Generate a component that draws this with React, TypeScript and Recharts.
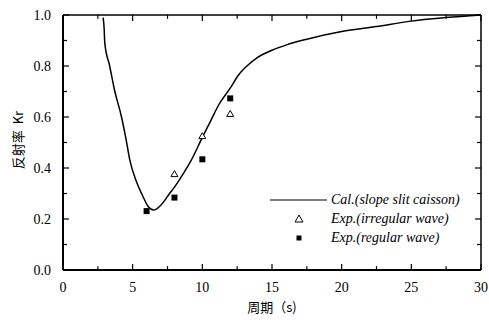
import { ComposedChart, Line, XAxis, YAxis, ReferenceLine } from 'recharts';

const calPeriod = [2.88, 2.95, 3.0, 3.35, 3.7, 4.2, 4.5, 4.8, 5.25, 5.75, 6.1, 6.5, 7.0, 7.65, 8.0, 8.6, 9.2, 10.0, 10.6, 11.2, 12.0, 12.6, 13.2, 14.0, 15.0, 16.0, 17.5, 20.0, 22.5, 25.0, 27.5, 30.0];
const calKr = [0.99, 0.95, 0.89, 0.8, 0.705, 0.6, 0.52, 0.43, 0.35, 0.287, 0.25, 0.235, 0.253, 0.3, 0.325, 0.375, 0.43, 0.52, 0.585, 0.65, 0.713, 0.765, 0.8, 0.835, 0.862, 0.882, 0.905, 0.935, 0.955, 0.976, 0.99, 1.0];

const irrPeriod = [8, 10, 12];
const irrKr = [0.376, 0.525, 0.612];

const regPeriod = [6, 8, 10, 12];
const regKr = [0.231, 0.284, 0.434, 0.673];

const xMajor = [0, 5, 10, 15, 20, 25, 30];
const xMinor = [2.5, 7.5, 12.5, 17.5, 22.5, 27.5];
const yMajor = [0, 0.2, 0.4, 0.6, 0.8, 1.0];
const yMinor = [0.1, 0.3, 0.5, 0.7, 0.9];

const calData = calPeriod.map((t, i) => ({ t, kr: calKr[i] }));
const irrData = irrPeriod.map((t, i) => ({ t, kr: irrKr[i] }));
const regData = regPeriod.map((t, i) => ({ t, kr: regKr[i] }));

const serif = 'Liberation Serif';
const cjk = 'Noto Sans CJK SC';

// inward tick lengths in data units (about 6px / 4px)
const xLenMajor = 0.024;
const xLenMinor = 0.015;
const yLenMajor = 0.43;
const yLenMinor = 0.29;

function Triangle(props: any) {
  const { cx, cy } = props;
  return <path d={`M${cx},${cy - 3.5} L${cx + 3.5},${cy + 2.5} L${cx - 3.5},${cy + 2.5} Z`} fill="#fff" stroke="#000" strokeWidth={1} />;
}

function Square(props: any) {
  const { cx, cy } = props;
  return <rect x={cx - 3} y={cy - 3} width={6} height={6} fill="#000" />;
}

function LegendBox() {
  const row = { display: 'flex', alignItems: 'center', height: 19 } as const;
  const label = { fontFamily: serif, fontStyle: 'italic', fontSize: 14, color: '#000', whiteSpace: 'nowrap' } as const;
  return (
    <div style={{ position: 'absolute', left: 270, top: 190 }}>
      <div style={row}>
        <svg width={61} height={10}><line x1={0} x2={57} y1={5} y2={5} stroke="#555" strokeWidth={1.5} /></svg>
        <span style={label}>Cal.(slope slit caisson)</span>
      </div>
      <div style={row}>
        <svg width={61} height={10}><path d="M29,1 L33,8 L25,8 Z" fill="#fff" stroke="#000" /></svg>
        <span style={label}>Exp.(irregular wave)</span>
      </div>
      <div style={row}>
        <svg width={61} height={10}><rect x={26.5} y={2.5} width={5} height={5} fill="#000" /></svg>
        <span style={label}>Exp.(regular wave)</span>
      </div>
    </div>
  );
}

const tickStyle = { fill: '#000', fontFamily: serif, fontSize: 14 };

export default function App() {
  const xTickLines = [
    ...xMajor.map((v) => ({ v, len: xLenMajor })),
    ...xMinor.map((v) => ({ v, len: xLenMinor })),
  ];
  const yTickLines = [
    ...yMajor.map((v) => ({ v, len: yLenMajor })),
    ...yMinor.map((v) => ({ v, len: yLenMinor })),
  ];
  return (
    <div style={{ position: 'absolute', left: 0, top: 0, width: 489, height: 320 }}>
      <ComposedChart width={489} height={320} margin={{ top: 15, right: 8, left: 0, bottom: 0 }}>
        <XAxis dataKey="t" type="number" domain={[0, 30]} ticks={xMajor} height={50} interval={0}
          tick={tickStyle} tickLine={false} tickMargin={6} axisLine={{ stroke: '#000', strokeWidth: 2 }} />
        <YAxis type="number" domain={[0, 1]} ticks={yMajor} width={63} interval={0}
          tick={tickStyle} tickLine={false} tickMargin={6} tickFormatter={(v: number) => v.toFixed(1)}
          axisLine={{ stroke: '#000', strokeWidth: 2 }} />
        <ReferenceLine y={1} stroke="#000" strokeWidth={1.5} ifOverflow="extendDomain" />
        <ReferenceLine x={30} stroke="#000" strokeWidth={1.5} ifOverflow="extendDomain" />
        {xTickLines.map(({ v, len }) => (
          <ReferenceLine key={`xb${v}`} segment={[{ x: v, y: 0 }, { x: v, y: len }]} stroke="#000" strokeWidth={1.2} />
        ))}
        {xTickLines.map(({ v, len }) => (
          <ReferenceLine key={`xt${v}`} segment={[{ x: v, y: 1 }, { x: v, y: 1 - len }]} stroke="#000" strokeWidth={1.2} />
        ))}
        {yTickLines.map(({ v, len }) => (
          <ReferenceLine key={`yl${v}`} segment={[{ x: 0, y: v }, { x: len, y: v }]} stroke="#000" strokeWidth={1.2} />
        ))}
        {yTickLines.map(({ v, len }) => (
          <ReferenceLine key={`yr${v}`} segment={[{ x: 30, y: v }, { x: 30 - len, y: v }]} stroke="#000" strokeWidth={1.2} />
        ))}
        <Line data={calData} dataKey="kr" type="monotone" stroke="#000" strokeWidth={1.5}
          dot={false} activeDot={false} isAnimationActive={false} />
        <Line data={irrData} dataKey="kr" stroke="none" dot={Triangle} activeDot={false} isAnimationActive={false} />
        <Line data={regData} dataKey="kr" stroke="none" dot={Square} activeDot={false} isAnimationActive={false} />
      </ComposedChart>
      <LegendBox />
      <div style={{ position: 'absolute', left: 272, top: 297, transform: 'translateX(-50%)', fontFamily: cjk, fontSize: 13, whiteSpace: 'nowrap' }}>
        周期（s)
      </div>
      <div style={{ position: 'absolute', left: 17, top: 140, transform: 'translate(-50%, -50%) rotate(-90deg)', fontFamily: cjk, fontSize: 13, whiteSpace: 'nowrap' }}>
        反射率&nbsp;&nbsp;Kr
      </div>
    </div>
  );
}
